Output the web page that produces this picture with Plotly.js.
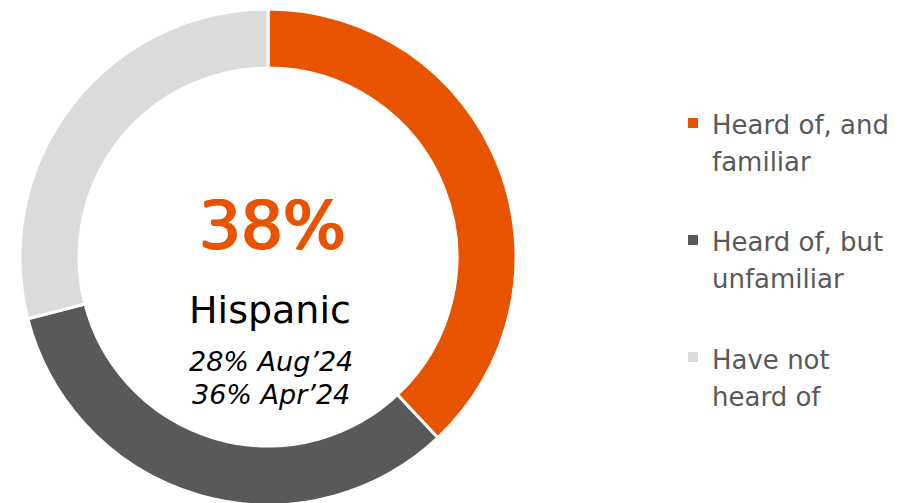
<!DOCTYPE html>
<html>
<head>
<meta charset="utf-8">
<script src="https://cdn.plot.ly/plotly-3.0.1.min.js"></script>
<style>html,body{margin:0;padding:0;background:#fff;overflow:hidden;}#chart{width:901px;height:511px;}</style>
</head>
<body>
<div id="chart"></div>
<script>
// Data
const labels = ["Heard of, and familiar", "Heard of, but unfamiliar", "Have not heard of"];
const legendLines = [["Heard of, and", "familiar"], ["Heard of, but", "unfamiliar"], ["Have not", "heard of"]];
const values = [38, 33, 29];
const colors = ["#E85300", "#595959", "#DADBDD"];
const centerValue = "38%";
const centerGroup = "Hispanic";
const comparisons = ["28% Aug\u201924", "36% Apr\u201924"];

const W = 901, H = 511;
const px = x => x / W;
const py = y => (H - y) / H;

const trace = {
  type: "pie",
  labels: labels,
  values: values,
  marker: { colors: colors, line: { color: "#ffffff", width: 3 } },
  hole: 0.762,
  sort: false,
  direction: "clockwise",
  rotation: 0,
  textinfo: "none",
  hoverinfo: "label+percent",
  showlegend: false,
  domain: { x: [px(20), px(516)], y: [py(505), py(9)] }
};

const font = "DejaVu Sans, Verdana, sans-serif";
const annotations = [
  { text: centerValue, x: px(272), y: py(225), xref: "paper", yref: "paper", showarrow: false,
    xanchor: "center", yanchor: "middle",
    font: { family: font, size: 66, color: colors[0],
            shadow: "1.2px 0px 0px " + colors[0] + ", -1.2px 0px 0px " + colors[0] + ", 0px 0.8px 0px " + colors[0] } },
  { text: centerGroup, x: px(270), y: py(310), xref: "paper", yref: "paper", showarrow: false,
    xanchor: "center", yanchor: "middle", font: { family: font, size: 38, color: "#000000" } },
  { text: "<i>" + comparisons[0] + "</i>", x: px(271), y: py(361), xref: "paper", yref: "paper", showarrow: false,
    xanchor: "center", yanchor: "middle", font: { family: font, size: 27, color: "#000000" } },
  { text: "<i>" + comparisons[1] + "</i>", x: px(271), y: py(394), xref: "paper", yref: "paper", showarrow: false,
    xanchor: "center", yanchor: "middle", font: { family: font, size: 27, color: "#000000" } }
];

const shapes = [];
const legendCenters = [123, 240, 357];
const lineCenters = [[125, 162], [242, 279], [360, 397]];
legendLines.forEach((lines, i) => {
  const cy = legendCenters[i];
  shapes.push({ type: "rect", xref: "paper", yref: "paper",
    x0: px(688), x1: px(698), y0: py(cy + 5), y1: py(cy - 5),
    fillcolor: colors[i], line: { width: 0 } });
  lines.forEach((ln, j) => {
    annotations.push({ text: ln, x: px(710), y: py(lineCenters[i][j]), xref: "paper", yref: "paper",
      showarrow: false, xanchor: "left", yanchor: "middle", align: "left",
      font: { family: font, size: 26, color: "#595959" } });
  });
});

const layout = {
  width: W, height: H,
  margin: { l: 0, r: 0, t: 0, b: 0 },
  paper_bgcolor: "#ffffff",
  plot_bgcolor: "#ffffff",
  showlegend: false,
  annotations: annotations,
  shapes: shapes
};

Plotly.newPlot("chart", [trace], layout, { displayModeBar: false, staticPlot: true });
</script>
</body>
</html>
